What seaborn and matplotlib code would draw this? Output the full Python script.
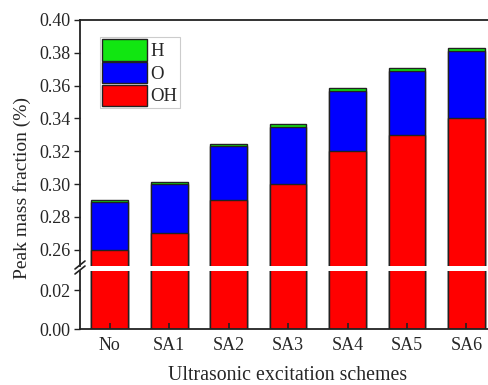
import matplotlib
matplotlib.use("Agg")
import matplotlib.pyplot as plt
from matplotlib.patches import Patch
import seaborn as sns
import pandas as pd

# Stacked peak mass fractions per ultrasonic excitation scheme
schemes = ["No", "SA1", "SA2", "SA3", "SA4", "SA5", "SA6"]
oh_vals = [0.260, 0.270, 0.290, 0.300, 0.320, 0.330, 0.340]
o_vals = [0.029, 0.030, 0.033, 0.035, 0.037, 0.039, 0.041]
h_vals = [0.0013, 0.0012, 0.0016, 0.0016, 0.0015, 0.0016, 0.0017]

upper_ticks = [0.26, 0.28, 0.30, 0.32, 0.34, 0.36, 0.38, 0.40]
lower_ticks = [0.00, 0.02]

sns.set_theme(style="ticks")
plt.rcParams["font.family"] = ["Liberation Serif", "DejaVu Serif"]
plt.rcParams["font.size"] = 13

df = pd.DataFrame({"scheme": schemes, "OH": oh_vals, "O": o_vals, "H": h_vals})
df["top_O"] = df["OH"] + df["O"]
df["top_H"] = df["top_O"] + df["H"]

W, H = 489, 385
fig = plt.figure(figsize=(W / 100, H / 100), dpi=100)
left, right = 80 / W, 489 / W
ax_top = fig.add_axes([left, 1 - 266 / H, right - left, (266 - 20) / H])
ax_bot = fig.add_axes([left, 1 - 329 / H, right - left, (329 - 271) / H])

colors = {"top_H": "#11e611", "top_O": "#0000ff", "OH": "#ff0000"}
edge = "#222222"
for ax in (ax_top, ax_bot):
    for col in ("top_H", "top_O", "OH"):
        sns.barplot(data=df, x="scheme", y=col, order=schemes, color=colors[col],
                    saturation=1, width=0.62, edgecolor=edge, linewidth=1.0, ax=ax)
    for p in ax.patches:
        p.set_zorder(1)
    ax.set_xlim(-0.5, 6.38)
    ax.set_xlabel("")
    ax.set_ylabel("")
    ax.set_axisbelow(False)
    for s in ax.spines.values():
        s.set_linewidth(1.3)
        s.set_color("#222222")
    ax.spines["right"].set_visible(False)
    ax.tick_params(axis="y", direction="out", length=4, width=1.0, labelsize=13, pad=3,
                   color="#222222")
    ax.tick_params(axis="x", direction="in", length=4, width=1.2, labelsize=13,
                   color="#222222")

ax_top.set_ylim(0.25, 0.40)
ax_top.set_yticks(upper_ticks)
ax_top.set_yticklabels([f"{t:.2f}" for t in upper_ticks])
ax_top.spines["bottom"].set_visible(False)
ax_top.tick_params(axis="x", bottom=False, labelbottom=False)

ax_bot.set_ylim(0.0, 0.03)
ax_bot.set_yticks(lower_ticks)
ax_bot.set_yticklabels([f"{t:.2f}" for t in lower_ticks])
ax_bot.spines["top"].set_visible(False)
ax_bot.tick_params(axis="x", pad=6)

# Break marks on the left spine
d = 5
for y in (265, 270):
    yf = 1 - y / H
    fig.add_artist(plt.Line2D([(80 - d) / W, (80 + d) / W],
                              [yf - 4 / H, yf + 4 / H],
                              transform=fig.transFigure, color="#222222", lw=1.2))

fig.text(22 / W, 1 - 188 / H, "Peak mass fraction (%)", rotation=90,
         ha="center", va="center", fontsize=14)
fig.text(288 / W, 1 - 376 / H, "Ultrasonic excitation schemes",
         ha="center", va="center", fontsize=14.3)

handles = [Patch(facecolor=colors["top_H"], edgecolor=edge, label="H"),
           Patch(facecolor=colors["top_O"], edgecolor=edge, label="O"),
           Patch(facecolor=colors["OH"], edgecolor=edge, label="OH")]
leg = ax_top.legend(handles=handles, loc="upper left", bbox_to_anchor=(0.048, 0.93),
                    handlelength=2.4, handleheight=1.35, labelspacing=0.08,
                    borderpad=0.12, handletextpad=0.2, borderaxespad=0,
                    fancybox=False, framealpha=1, fontsize=13.5)
leg.get_frame().set_edgecolor("#cccccc")
leg.get_frame().set_linewidth(0.8)

fig.savefig("out.png", dpi=100)
